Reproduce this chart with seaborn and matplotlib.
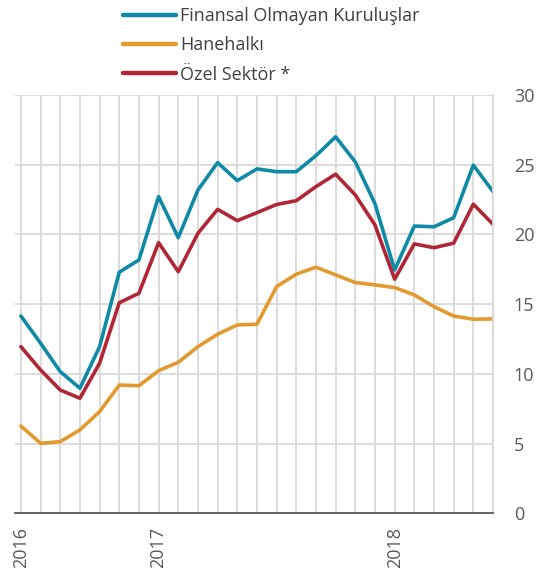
import matplotlib
matplotlib.use("Agg")
import matplotlib.pyplot as plt
import seaborn as sns
import pandas as pd

# Monthly axis labels (year shown at its first month only)
x_labels = ["2016", "", "", "", "", "", "", "2017", "", "", "", "", "",
            "", "", "", "", "", "", "2018", "", "", "", "", ""]

finansal_olmayan = [14.15, 12.2, 10.16, 8.97, 11.95, 17.29, 18.17, 22.71, 19.77,
                    23.19, 25.15, 23.86, 24.7, 24.5, 24.5, 25.65, 27.0, 25.2,
                    22.2, 17.45, 20.6, 20.55, 21.2, 24.97, 23.07]
hanehalki = [6.26, 5.02, 5.14, 5.98, 7.29, 9.2, 9.15, 10.23, 10.83, 11.95,
             12.84, 13.51, 13.56, 16.26, 17.15, 17.65, 17.1, 16.55, 16.38,
             16.19, 15.66, 14.82, 14.15, 13.92, 13.94]
ozel_sektor = [11.95, 10.28, 8.84, 8.25, 10.76, 15.1, 15.78, 19.41, 17.33,
               20.08, 21.8, 20.99, 21.56, 22.15, 22.42, 23.43, 24.32, 22.83,
               20.68, 16.79, 19.32, 19.05, 19.37, 22.17, 20.73]

series_names = ["Finansal Olmayan Kuruluşlar", "Hanehalkı", "Özel Sektör *"]
colors = ["#0E8AA7", "#E4992F", "#B02636"]

n = len(x_labels)
df = pd.DataFrame({
    "x": list(range(n)) * 3,
    "value": finansal_olmayan + hanehalki + ozel_sektor,
    "seri": [series_names[0]] * n + [series_names[1]] * n + [series_names[2]] * n,
})

sns.set_style("white")
plt.rcParams["font.family"] = ["Open Sans", "DejaVu Sans"]

fig = plt.figure(figsize=(5.46, 5.74), dpi=100)
ax = fig.add_axes([15 / 546, 1 - 513.3 / 574, (493 - 15) / 546, (513.3 - 95) / 574])

sns.lineplot(data=df, x="x", y="value", hue="seri", hue_order=series_names,
             palette=colors, linewidth=2.6, ax=ax, legend=False)

ax.set_xlim(-0.3, n - 1)
ax.set_ylim(0, 30)
ax.set_xlabel("")
ax.set_ylabel("")

grid_color = "#D9D9D9"
ax.set_xticks(range(n))
ax.set_xticklabels(x_labels, rotation=90, fontsize=13, color="#595959")
ax.set_yticks([0, 5, 10, 15, 20, 25, 30])
ax.yaxis.tick_right()
ax.tick_params(axis="y", length=0, pad=15, labelsize=13, labelcolor="#595959")
ax.tick_params(axis="x", direction="out", length=4.5, width=1.1, color="#595959", pad=5.5)
ax.grid(True, color=grid_color, linewidth=1.3)
ax.set_axisbelow(True)

for side in ["left", "top"]:
    ax.spines[side].set_visible(False)
ax.spines["right"].set_color(grid_color)
ax.spines["right"].set_linewidth(1.3)
ax.spines["bottom"].set_color("#595959")
ax.spines["bottom"].set_linewidth(1.3)

handles = [plt.Line2D([], [], color=c, linewidth=3.2, solid_capstyle="round") for c in colors]
fig.legend(handles, series_names, loc="upper left", bbox_to_anchor=(116 / 546, 1.0),
           frameon=False, fontsize=13, handlelength=2.95, handletextpad=0.22,
           labelspacing=0.62, labelcolor="#404040", borderaxespad=0.0)

fig.savefig("out.png", dpi=100)
